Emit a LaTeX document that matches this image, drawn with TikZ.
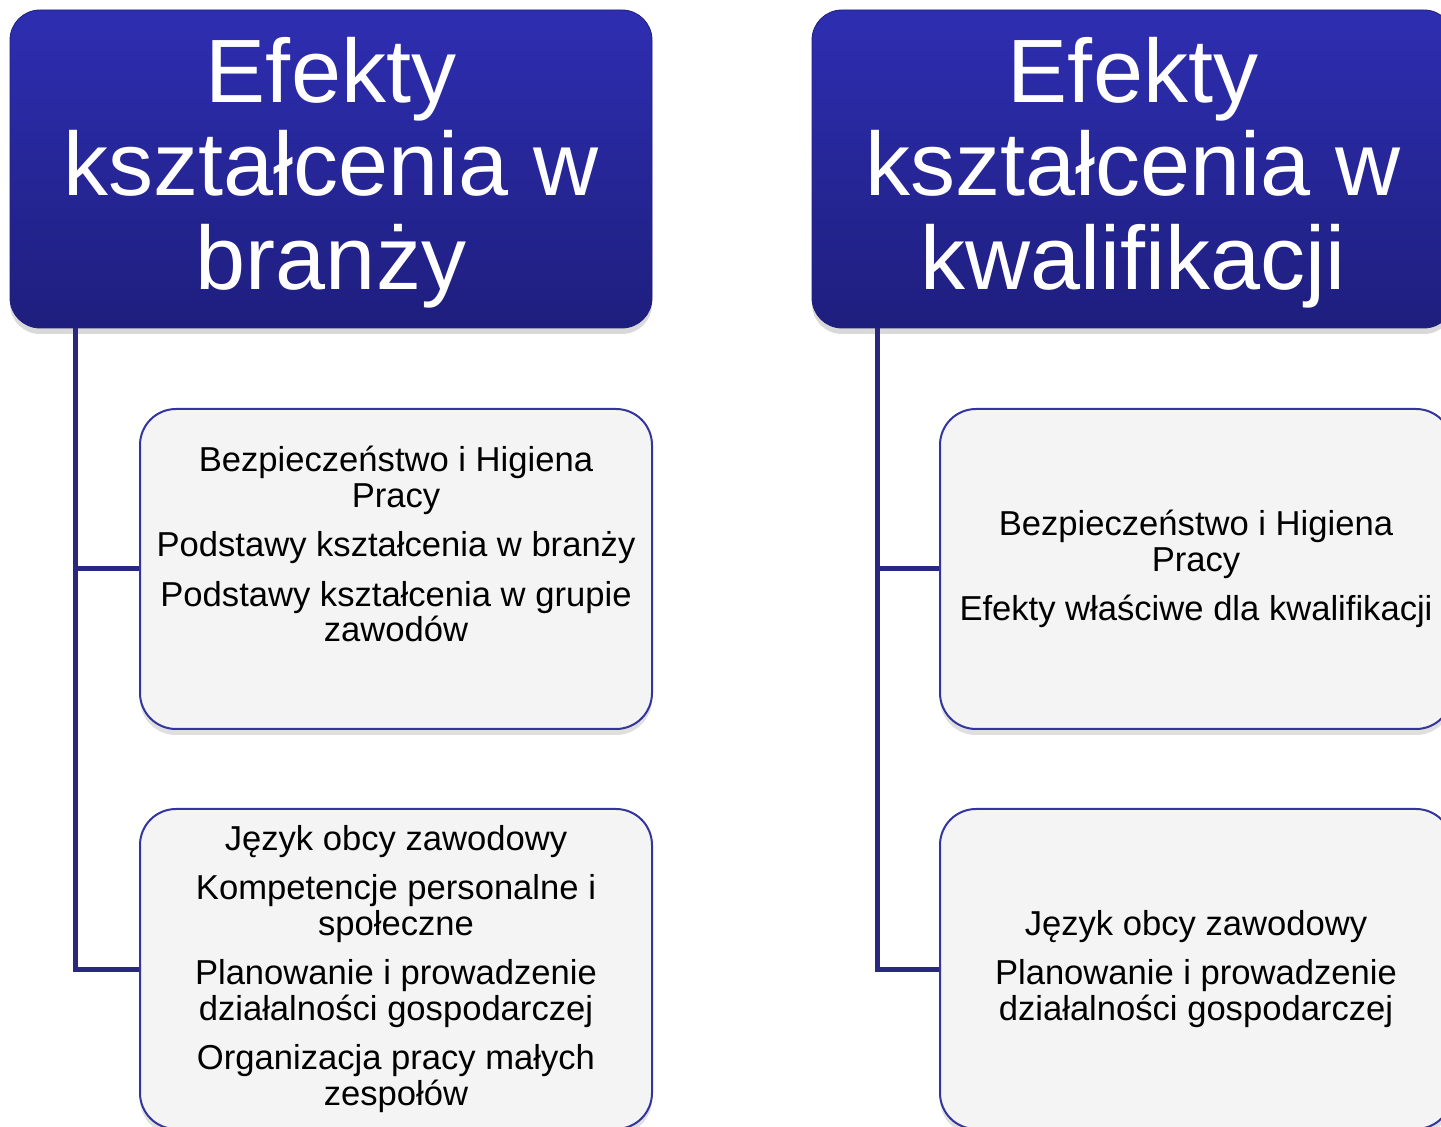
\documentclass[tikz,border=0pt]{standalone}
\usepackage{fontspec}
\setmainfont{Liberation Sans}
\usetikzlibrary{positioning,shadows}
\definecolor{hdrtop}{RGB}{46,46,178}
\definecolor{hdrbot}{RGB}{30,30,126}
\definecolor{trunk}{RGB}{40,40,128}
\definecolor{leafline}{RGB}{52,52,158}
\definecolor{leaffill}{RGB}{244,244,244}
\tikzset{
	header/.style={rectangle, rounded corners=15pt, minimum width=321pt, minimum height=159pt,
		top color=hdrtop, bottom color=hdrbot, draw=hdrbot, text=white, align=center, inner sep=0pt,
		font=\fontsize{45}{46.75}\selectfont, text depth=6pt,
		drop shadow={shadow xshift=0pt, shadow yshift=-3pt, opacity=0.3}},
	leaf/.style={rectangle, rounded corners=18pt, minimum width=256pt, minimum height=160pt,
		fill=leaffill, draw=leafline, line width=1pt, align=center, inner sep=0pt,
		font=\fontsize{17.3}{17.75}\selectfont,
		drop shadow={shadow xshift=0pt, shadow yshift=-3pt, opacity=0.25}},
	branch/.style={draw=trunk, line width=2.5pt}
}
\begin{document}
\begin{tikzpicture}[x=0.5pt,y=-0.5pt]
	\useasboundingbox (0,0) rectangle (1441,1127);
	% dwa naglowki
	\node[header] (hdrL) at (331,169) {Efekty\\kształcenia w\\branży};
	\node[header] (hdrR) at (1133,169) {Efekty\\kształcenia w\\kwalifikacji};
	% lewa kolumna
	\node[leaf] (leafA) at (396,569) {Bezpieczeństwo i Higiena\\Pracy\\[7pt]
		Podstawy kształcenia w branży\\[7pt]
		Podstawy kształcenia w grupie\\zawodów\\[7pt]\mbox{}};
	\node[leaf] (leafB) at (396,969) {Język obcy zawodowy\\[7pt]
		Kompetencje personalne i\\społeczne\\[7pt]
		Planowanie i prowadzenie\\działalności gospodarczej\\[7pt]
		Organizacja pracy małych\\zespołów};
	% prawa kolumna
	\node[leaf] (leafC) at (1196,569) {Bezpieczeństwo i Higiena\\Pracy\\[7pt]
		Efekty właściwe dla kwalifikacji};
	\node[leaf] (leafD) at (1196,969) {Język obcy zawodowy\\[7pt]
		Planowanie i prowadzenie\\działalności gospodarczej};
	% linie laczace
	\draw[branch] ([xshift=33pt]hdrL.south west) |- (leafA.west);
	\draw[branch] ([xshift=33pt]hdrL.south west) |- (leafB.west);
	\draw[branch] ([xshift=33pt]hdrR.south west) |- (leafC.west);
	\draw[branch] ([xshift=33pt]hdrR.south west) |- (leafD.west);
\end{tikzpicture}
\end{document}
